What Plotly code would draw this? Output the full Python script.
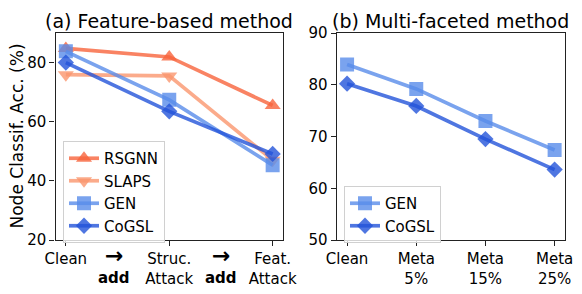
import plotly.graph_objects as go

# ---- data ----
cats_a = [0, 1, 2]
ticks_a = ["Clean", "Struc.<br>Attack", "Feat.<br>Attack"]
rsgnn = [84.8, 81.9, 65.5]
slaps = [75.9, 75.5, 47.0]
gen_a = [83.8, 67.4, 45.3]
cogsl_a = [80.0, 63.5, 49.1]

cats_b = [0, 1, 2, 3]
ticks_b = ["Clean", "Meta<br>5%", "Meta<br>15%", "Meta<br>25%"]
gen_b = [83.9, 79.2, 73.0, 67.4]
cogsl_b = [80.2, 75.9, 69.5, 63.6]

FONT = "DejaVu Sans"
C_RSGNN = "rgba(247,100,60,0.8)"
C_SLAPS = "rgba(250,150,110,0.8)"
C_GEN = "rgba(89,140,234,0.8)"
C_COGSL = "rgba(35,84,217,0.8)"

fig = go.Figure()

def add(x, y, name, color, symbol, xa, ya, show, group):
    fig.add_trace(go.Scatter(
        x=x, y=y, name=name, mode="lines+markers",
        line=dict(color=color, width=3.7),
        marker=dict(color=color, symbol=symbol, size=14 if symbol != "diamond" else 12.5,
                    line=dict(width=0)),
        xaxis=xa, yaxis=ya, showlegend=show, legend=group,
    ))

add(cats_a, rsgnn, "RSGNN", C_RSGNN, "triangle-up", "x", "y", True, "legend")
add(cats_a, slaps, "SLAPS", C_SLAPS, "triangle-down", "x", "y", True, "legend")
add(cats_a, gen_a, "GEN", C_GEN, "square", "x", "y", True, "legend")
add(cats_a, cogsl_a, "CoGSL", C_COGSL, "diamond", "x", "y", True, "legend")
add(cats_b, gen_b, "GEN", C_GEN, "square", "x2", "y2", True, "legend2")
add(cats_b, cogsl_b, "CoGSL", C_COGSL, "diamond", "x2", "y2", True, "legend2")

W, H = 582, 294
y_dom = [1 - 240 / H, 1 - 33 / H]
ax_common = dict(showgrid=False, zeroline=False, showline=True, linecolor="#222",
                 linewidth=1.3, mirror=True, ticks="outside", ticklen=5,
                 tickcolor="#222", tickwidth=1.2, automargin=False,
                 tickfont=dict(family=FONT, size=15, color="black"))

legend_common = dict(font=dict(family=FONT, size=15, color="black"),
                     bgcolor="rgba(255,255,255,0.8)", bordercolor="#d0d0d0",
                     borderwidth=1, xanchor="left", yanchor="top",
                     tracegroupgap=0)

fig.update_layout(
    width=W, height=H,
    margin=dict(l=0, r=0, t=0, b=0, pad=0, autoexpand=False),
    plot_bgcolor="white", paper_bgcolor="white",
    font=dict(family=FONT, color="black"),
    xaxis=dict(domain=[55.5 / W, 283 / W], range=[-0.1, 2.1],
               tickvals=cats_a, ticktext=ticks_a, anchor="y", **ax_common),
    yaxis=dict(domain=y_dom, range=[20, 90], tickvals=[20, 40, 60, 80],
               anchor="x", **ax_common),
    xaxis2=dict(domain=[336.7 / W, 565 / W], range=[-0.15, 3.15],
                tickvals=cats_b, ticktext=ticks_b, anchor="y2", **ax_common),
    yaxis2=dict(domain=y_dom, range=[50, 90], tickvals=[50, 60, 70, 80, 90],
                anchor="x2", **ax_common),
    legend=dict(x=63 / W, y=1 - 141 / H, **legend_common),
    legend2=dict(x=344 / W, y=1 - 186 / H, **legend_common),
)

ann = []
ann.append(dict(text="(a) Feature-based method", x=169.25 / W, y=1 - 21 / H,
                xref="paper", yref="paper", showarrow=False,
                xanchor="center", yanchor="middle",
                font=dict(family=FONT, size=19, color="black")))
ann.append(dict(text="(b) Multi-faceted method", x=450.9 / W, y=1 - 21 / H,
                xref="paper", yref="paper", showarrow=False,
                xanchor="center", yanchor="middle",
                font=dict(family=FONT, size=19, color="black")))
ann.append(dict(text="Node Classif. Acc. (%)", x=16 / W, y=(1 - 136.5 / H),
                xref="paper", yref="paper", showarrow=False, textangle=-90,
                xanchor="center", yanchor="middle",
                font=dict(family=FONT, size=17, color="black")))
for xp in [0.47, 1.5]:
    ann.append(dict(text="<b>→</b>", x=xp, y=1 - 255 / H, xref="x", yref="paper",
                    showarrow=False, xanchor="center", yanchor="middle",
                    font=dict(family=FONT, size=22, color="black")))
    ann.append(dict(text="<b>add</b>", x=xp, y=1 - 278 / H, xref="x", yref="paper",
                    showarrow=False, xanchor="center", yanchor="middle",
                    font=dict(family=FONT, size=15, color="black")))
fig.update_layout(annotations=ann)

fig.write_html("out.html", config={"displayModeBar": False},
               post_script="document.body.style.margin='0';")
